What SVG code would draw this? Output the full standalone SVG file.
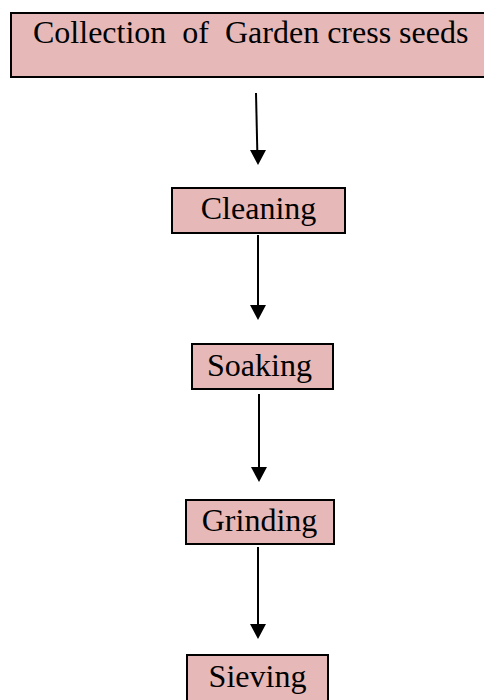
<svg xmlns="http://www.w3.org/2000/svg" width="484" height="700" viewBox="0 0 484 700">
<defs>
<style>
.box{fill:#e6b8b7;stroke:#000;stroke-width:2}
.lbl{font-family:"Liberation Serif","Times New Roman",serif;font-size:32px;fill:#000}
.c{text-anchor:middle}
.ln{stroke:#000;stroke-width:2;fill:none}
.hd{fill:#000}
</style>
</defs>
<rect width="484" height="700" fill="#fff"/>
<g id="collection">
<rect class="box" x="11" y="13" width="480" height="64"/>
<text class="lbl" x="33" y="43" xml:space="preserve">Collection  of  Garden cress seeds</text>
</g>
<g id="cleaning">
<rect class="box" x="172" y="188" width="173" height="45"/>
<text class="lbl c" x="258.5" y="219">Cleaning</text>
</g>
<g id="soaking">
<rect class="box" x="192" y="344" width="141" height="45"/>
<text class="lbl c" x="259.5" y="376">Soaking</text>
</g>
<g id="grinding">
<rect class="box" x="186" y="500" width="148" height="44"/>
<text class="lbl c" x="259.5" y="531">Grinding</text>
</g>
<g id="sieving">
<rect class="box" x="187" y="655" width="141" height="50"/>
<text class="lbl c" x="257.5" y="687">Sieving</text>
</g>
<g id="connectors">
<line class="ln" x1="256" y1="93" x2="257.3" y2="151"/>
<polygon class="hd" points="250,150 266,150 258,165"/>
<line class="ln" x1="258" y1="235" x2="258" y2="306"/>
<polygon class="hd" points="250,305 266,305 258,320"/>
<line class="ln" x1="259" y1="394" x2="259" y2="468"/>
<polygon class="hd" points="251,467 267,467 259,482"/>
<line class="ln" x1="258" y1="547" x2="258" y2="625"/>
<polygon class="hd" points="250,624 266,624 258,639"/>
</g>
</svg>
